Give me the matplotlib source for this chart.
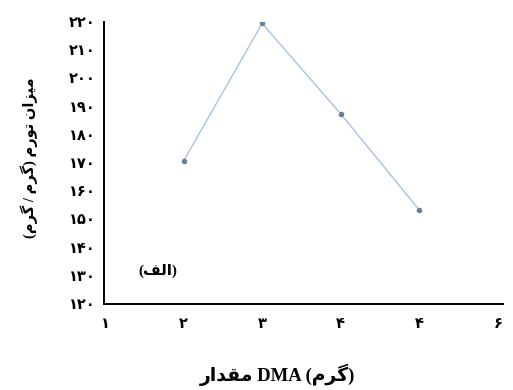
import matplotlib
matplotlib.use("Agg")
import matplotlib.pyplot as plt

# ---- data ----
x_values = [2, 3, 4, 5]
swelling = [170.7, 219.5, 187.4, 153.3]
x_ticks = [1, 2, 3, 4, 5, 6]
x_tick_labels = ["۱", "۲", "۳", "۴", "۴", "۶"]
y_ticks = [120, 130, 140, 150, 160, 170, 180, 190, 200, 210, 220]
y_tick_labels = ["۱۲۰", "۱۳۰", "۱۴۰", "۱۵۰", "۱۶۰", "۱۷۰", "۱۸۰", "۱۹۰", "۲۰۰", "۲۱۰", "۲۲۰"]
x_label_words = ("مقدار", "DMA", "گرم")
y_label_text = "میزان تورم (گرم / گرم)"
panel_text = "(الف)"

# ---- simple Persian shaping (presentation forms) ----
FORMS = {  # isolated, final, initial, medial
    "ا": ("\uFE8D", "\uFE8E", None, None),
    "د": ("\uFEA9", "\uFEAA", None, None),
    "ر": ("\uFEAD", "\uFEAE", None, None),
    "ز": ("\uFEAF", "\uFEB0", None, None),
    "و": ("\uFEED", "\uFEEE", None, None),
    "ف": ("\uFED1", "\uFED2", "\uFED3", "\uFED4"),
    "ق": ("\uFED5", "\uFED6", "\uFED7", "\uFED8"),
    "ل": ("\uFEDD", "\uFEDE", "\uFEDF", "\uFEE0"),
    "م": ("\uFEE1", "\uFEE2", "\uFEE3", "\uFEE4"),
    "ن": ("\uFEE5", "\uFEE6", "\uFEE7", "\uFEE8"),
    "ت": ("\uFE95", "\uFE96", "\uFE97", "\uFE98"),
    "ی": ("\uFBFC", "\uFBFD", "\uFBFE", "\uFBFF"),
    "گ": ("\uFB92", "\uFB93", "\uFB94", "\uFB95"),
}


def joins_left(ch):
    return ch in FORMS and FORMS[ch][2] is not None


def shape_logical(s):
    out = []
    for i, ch in enumerate(s):
        if ch not in FORMS:
            out.append(ch)
            continue
        prev = s[i - 1] if i > 0 else ""
        nxt = s[i + 1] if i + 1 < len(s) else ""
        jp = joins_left(prev)
        jn = joins_left(ch) and nxt in FORMS
        iso, fin, ini, med = FORMS[ch]
        if jp and jn:
            out.append(med)
        elif jp:
            out.append(fin)
        elif jn:
            out.append(ini)
        else:
            out.append(iso)
    return "".join(out)


MIRROR = {"(": ")", ")": "("}


def rtl(s):
    shaped = shape_logical(s)
    return "".join(MIRROR.get(c, c) for c in reversed(shaped))


plt.rcParams["font.family"] = ["Liberation Serif", "DejaVu Sans"]

fig = plt.figure(figsize=(5.13, 3.90), dpi=100)
ax = fig.add_axes([0.203, 0.2205, 0.777, 0.723])

ax.plot(x_values, swelling, color="#a9c3df", linewidth=1.0, zorder=2)
ax.plot(x_values, swelling, linestyle="none", marker="o", markersize=3,
        color="#6d8099", zorder=3)

ax.set_xlim(0.99, 6.06)
ax.set_ylim(120, 220)
ax.set_xticks(x_ticks)
ax.set_xticklabels(x_tick_labels, fontweight="bold", fontsize=10.5)
ax.set_yticks(y_ticks)
ax.set_yticklabels(y_tick_labels, fontweight="bold", fontsize=10.5)
ax.tick_params(axis="both", length=0)
ax.tick_params(axis="x", pad=10)
ax.tick_params(axis="y", pad=6)

for side in ("top", "right"):
    ax.spines[side].set_visible(False)
for side in ("left", "bottom"):
    ax.spines[side].set_linewidth(1.4)
    ax.spines[side].set_color("black")

w1, w2, w3 = x_label_words
ax.set_xlabel(rtl(w1) + " " + w2 + " (" + rtl(w3) + ")", fontweight="bold",
              fontsize=13.5)
ax.xaxis.set_label_coords(0.436, -0.212)
ax.set_ylabel(rtl(y_label_text), fontweight="bold", fontsize=10.5)
ax.yaxis.set_label_coords(-0.165, 0.52)

ax.text(1.67, 131.7, rtl(panel_text), fontweight="bold", fontsize=11,
        ha="center", va="center")

fig.savefig("out.png", dpi=100)
